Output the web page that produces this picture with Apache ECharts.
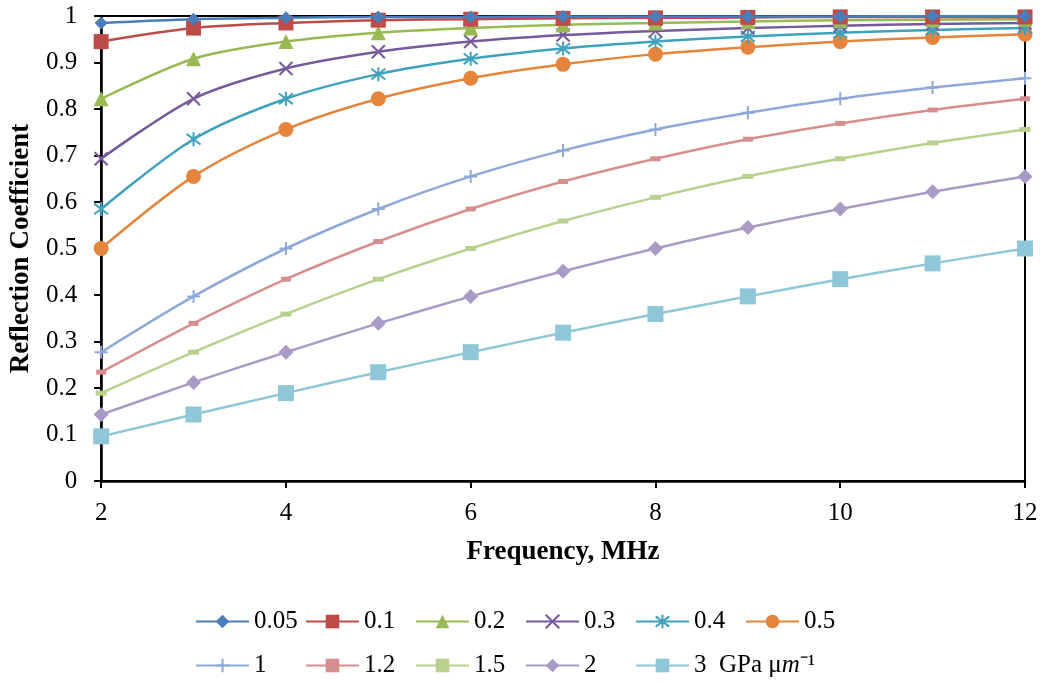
<!DOCTYPE html>
<html>
<head>
<meta charset="utf-8">
<script src="https://cdn.jsdelivr.net/npm/echarts@6/dist/echarts.min.js"></script>
<style>html,body{margin:0;padding:0;background:#fff}#c{width:1046px;height:684px}</style>
</head>
<body>
<div id="c"></div>
<script>
const frequencies = [2, 3, 4, 5, 6, 7, 8, 9, 10, 11, 12];
const seriesNames = ['0.05', '0.1', '0.2', '0.3', '0.4', '0.5', '1', '1.2', '1.5', '2', '3'];
const r005 = [0.985, 0.993, 0.996, 0.998, 0.998, 0.999, 0.999, 0.999, 0.999, 1.000, 1.000];
const r01  = [0.945, 0.974, 0.985, 0.991, 0.993, 0.995, 0.996, 0.997, 0.998, 0.998, 0.998];
const r02  = [0.822, 0.908, 0.945, 0.964, 0.974, 0.981, 0.985, 0.988, 0.991, 0.992, 0.993];
const r03  = [0.693, 0.822, 0.887, 0.923, 0.945, 0.959, 0.968, 0.974, 0.979, 0.983, 0.985];
const r04  = [0.585, 0.735, 0.822, 0.875, 0.908, 0.930, 0.945, 0.956, 0.964, 0.970, 0.974];
const r05  = [0.500, 0.655, 0.756, 0.822, 0.866, 0.896, 0.918, 0.933, 0.945, 0.954, 0.961];
const r1   = [0.277, 0.397, 0.500, 0.585, 0.655, 0.711, 0.756, 0.792, 0.822, 0.846, 0.866];
const r12  = [0.234, 0.339, 0.434, 0.515, 0.585, 0.644, 0.693, 0.735, 0.769, 0.798, 0.822];
const r15  = [0.189, 0.277, 0.359, 0.434, 0.500, 0.559, 0.610, 0.655, 0.693, 0.727, 0.756];
const r2   = [0.143, 0.212, 0.277, 0.339, 0.397, 0.451, 0.500, 0.545, 0.585, 0.622, 0.655];
const r3   = [0.096, 0.143, 0.189, 0.234, 0.277, 0.319, 0.359, 0.397, 0.434, 0.468, 0.500];
const yTicks = ['0', '0.1', '0.2', '0.3', '0.4', '0.5', '0.6', '0.7', '0.8', '0.9', '1'];

const allValues = [r005, r01, r02, r03, r04, r05, r1, r12, r15, r2, r3];
const colors = ['#4A7EBB', '#BE4B48', '#98B954', '#775A9B', '#3FA2BC', '#E4843D',
                '#8EA9D8', '#D68F8D', '#B9D18F', '#A99BC6', '#8FC6D8'];
const xPath = 'path://M0,0L10,10M10,0L0,10';
const starPath = 'path://M5,0L5,10M1.2,1.2L8.8,8.8M1.2,8.8L8.8,1.2';
const plusPath = 'path://M5,0L5,10M0,5L10,5';
const symbols = ['diamond', 'rect', 'triangle', xPath, starPath, 'circle', plusPath, 'rect', 'rect', 'diamond', 'rect'];
const sizes = [13, 15, 15, 13, 14, 15, 13, [10, 5], [11, 5], 15, 16];
const strokeOnly = [false, false, false, true, true, false, true, false, false, false, false];

const serif = 'Liberation Serif';
const series = seriesNames.map((n, i) => ({
  name: n,
  type: 'line',
  smooth: 0.3,
  data: frequencies.map((f, j) => [f, allValues[i][j]]),
  symbol: symbols[i],
  symbolSize: sizes[i],
  showAllSymbol: true,
  lineStyle: { color: colors[i], width: 2.5 },
  itemStyle: strokeOnly[i]
    ? { color: colors[i], borderColor: colors[i], borderWidth: 2 }
    : { color: colors[i], borderWidth: 0 },
  emphasis: { disabled: true },
  z: 20 - i
}));

const legendText = {
  fontFamily: serif, fontSize: 25, color: '#000',
  rich: {
    t: { fontFamily: serif, fontSize: 25, color: '#000' },
    i: { fontFamily: serif, fontSize: 25, fontStyle: 'italic', color: '#000' }
  }
};
const fmt = name => name === '3' ? '{t|3  GPa μ}{i|m}{t|⁻¹}' : name;
const colLefts = [195, 305, 415, 525, 635, 745];
const rowTops = [609, 653];
const legends = seriesNames.map((n, i) => ({
  data: [n],
  left: colLefts[i < 6 ? i : i - 6],
  top: rowTops[i < 6 ? 0 : 1],
  padding: 0,
  itemWidth: 53, itemHeight: 17,
  textStyle: legendText,
  formatter: fmt,
  selectedMode: false
}));

const chart = echarts.init(document.getElementById('c'), null, { renderer: 'canvas' });
chart.setOption({
  animation: false,
  backgroundColor: '#fff',
  grid: { left: 99, right: 21, top: 16, bottom: 203, show: true, borderColor: '#000', borderWidth: 2, backgroundColor: 'transparent' },
  xAxis: {
    type: 'value', min: 2, max: 12, interval: 2,
    name: 'Frequency, MHz', nameLocation: 'middle', nameGap: 58,
    nameTextStyle: { fontFamily: serif, fontWeight: 'bold', fontSize: 27, color: '#000' },
    axisLine: { onZero: false, lineStyle: { color: '#000', width: 2.5 } },
    axisTick: { show: true, length: 7, lineStyle: { color: '#000', width: 2 } },
    axisLabel: { fontFamily: serif, fontSize: 25, color: '#000', margin: 20 },
    splitLine: { show: false }
  },
  yAxis: {
    type: 'value', min: 0, max: 1, interval: 0.1,
    name: 'Reflection Coefficient', nameLocation: 'middle', nameGap: 62,
    nameTextStyle: { fontFamily: serif, fontWeight: 'bold', fontSize: 27, color: '#000' },
    axisLine: { show: true, lineStyle: { color: '#000', width: 2.5 } },
    axisTick: { show: true, length: 7, lineStyle: { color: '#000', width: 2 } },
    axisLabel: { fontFamily: serif, fontSize: 25, color: '#000', margin: 24,
      formatter: v => yTicks[Math.round(v * 10)] },
    splitLine: { show: false }
  },
  legend: legends,
  series: series
});
</script>
</body>
</html>
